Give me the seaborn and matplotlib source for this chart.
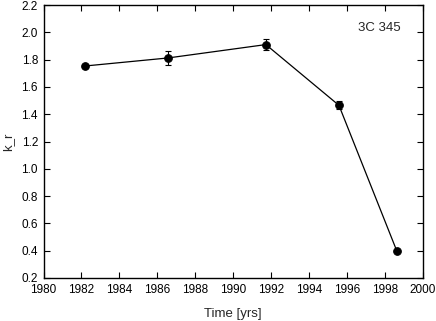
import matplotlib
matplotlib.use("Agg")
import matplotlib.pyplot as plt
import seaborn as sns
import pandas as pd

years = [1982.18, 1986.56, 1991.72, 1995.57, 1998.62]
k_r = [1.753, 1.812, 1.910, 1.465, 0.398]
k_err = [0.018, 0.054, 0.038, 0.030, 0.0]

sns.set_style("ticks")
plt.rcParams['font.family'] = ['Liberation Sans', 'DejaVu Sans']

df = pd.DataFrame({"Time": years, "k_r": k_r, "err": k_err})

fig = plt.figure(figsize=(4.36, 3.21), dpi=100)
ax = fig.add_axes([43.5/436, 1 - 278/321, (423 - 43.5)/436, (278 - 5)/321])

ax.errorbar(df["Time"], df["k_r"], yerr=df["err"], fmt="none", ecolor="black",
            elinewidth=0.8, capsize=2.5, capthick=0.8, zorder=2)
sns.lineplot(data=df, x="Time", y="k_r", ax=ax, color="black", linewidth=0.9,
             marker="o", markersize=5.5, markeredgecolor="black", zorder=3)

ax.set_xlim(1980, 2000)
ax.set_ylim(0.2, 2.2)
ax.set_xticks(range(1980, 2001, 2))
ax.set_yticks([0.2, 0.4, 0.6, 0.8, 1.0, 1.2, 1.4, 1.6, 1.8, 2.0, 2.2])
ax.set_yticklabels([f"{v:.1f}" for v in ax.get_yticks()])
ax.tick_params(direction="in", top=True, right=True, length=4, width=0.8,
               labelsize=8.5, colors="black", pad=4)
for s in ax.spines.values():
    s.set_linewidth(1.0)
    s.set_color("black")
ax.set_xlabel("Time [yrs]", fontsize=9.5, labelpad=9)
ax.set_ylabel("k_r", fontsize=9.5, labelpad=5)
ax.text(0.885, 0.915, "3C 345", transform=ax.transAxes, fontsize=9.5,
        ha="center", va="center")

fig.savefig("out.png", dpi=100)
